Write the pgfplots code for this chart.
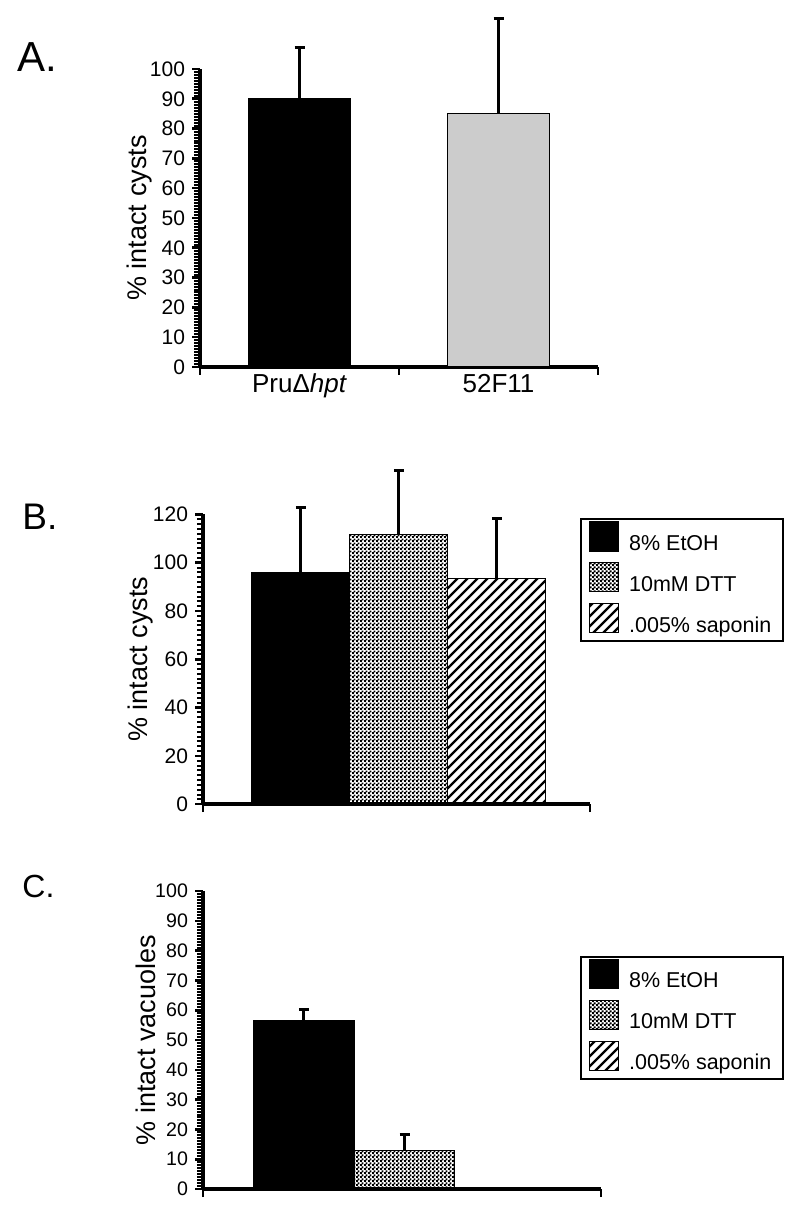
\documentclass[border=0pt]{standalone}
\usepackage{pgfplots}
\pgfplotsset{compat=1.18}
\usepackage{fontspec}
\setmainfont{Liberation Sans}
\usetikzlibrary{patterns}

\pgfdeclarepatternformonly{fcheck}{\pgfqpoint{0pt}{0pt}}{\pgfqpoint{2pt}{2pt}}{\pgfqpoint{2pt}{2pt}}{%
 \pgfpathrectangle{\pgfqpoint{0pt}{0pt}}{\pgfqpoint{1.15pt}{1.15pt}}%
 \pgfpathrectangle{\pgfqpoint{1pt}{1pt}}{\pgfqpoint{1.15pt}{1.15pt}}%
 \pgfusepath{fill}}
\pgfdeclarepatternformonly{fstripe}{\pgfqpoint{-1pt}{-1pt}}{\pgfqpoint{6pt}{6pt}}{\pgfqpoint{5pt}{5pt}}{%
 \pgfsetlinewidth{1.1pt}\pgfpathmoveto{\pgfqpoint{0pt}{0pt}}\pgfpathlineto{\pgfqpoint{5.1pt}{5.1pt}}\pgfusepath{stroke}}

\definecolor{lgray}{RGB}{204,204,204}

\pgfplotsset{
 panel/.style={
  scale only axis, anchor=south west,
  axis lines=left, axis line style={-, line width=1.8pt},
  tick align=outside, major tick length=4pt, minor tick length=3pt,
  major tick style={black, line width=1.3pt},
  minor tick style={black, line width=1pt},
  /pgf/number format/assume math mode=true,
  clip=false, ymin=0,
  ticklabel style={font=\fontsize{10.5}{12}\selectfont},
 },
 ebar/.style={/pgfplots/error bars/.cd, y dir=plus, y explicit,
   error bar style={line width=1.5pt},
   error mark options={rotate=90, mark size=2.5pt, line width=1.5pt}},
 sq/.style={/pgfplots/legend image code/.code={\draw[##1, line width=0.6pt] (0pt,-3.4pt) rectangle (14.5pt,11.1pt);}},
 legbox/.style={legend style={draw=black, line width=1pt, inner xsep=4pt, inner ysep=1pt,
   row sep=2.5pt, column sep=3pt, nodes={inner sep=2pt},
   font=\fontsize{10.75}{12}\selectfont}, legend cell align=left},
}

\begin{document}
\begin{tikzpicture}
\useasboundingbox (0,0) rectangle (400pt,603pt);

\node[anchor=base west, inner sep=0pt, font=\fontsize{21}{25}\selectfont] at (8.5pt,567pt) {A.};
\node[anchor=base west, inner sep=0pt, font=\fontsize{18.5}{22}\selectfont] at (11pt,338pt) {B.};
\node[anchor=base west, inner sep=0pt, font=\fontsize{16}{19}\selectfont] at (11pt,154pt) {C.};

% Panel A
\begin{axis}[panel, at={(100pt,419.5pt)}, width=199pt, height=149pt,
  xmin=-0.5, xmax=1.5, ymax=100,
  ytick={0,10,...,100}, minor y tick num=9,
  xtick={-0.5,0.5,1.5}, xticklabels={},
  extra x ticks={0,1}, extra x tick labels={Pru\symbol{"0394}\textit{hpt}, 52F11},
  extra x tick style={major tick length=0pt, ticklabel style={font=\fontsize{13}{15}\selectfont}},
  ylabel={\% intact cysts}, ylabel style={font=\fontsize{13.5}{16}\selectfont}, ylabel shift=-8pt,
]
\addplot[ybar, bar shift=0pt, bar width=0.51, fill=black, draw=black, line width=0.5pt, ebar]
  coordinates {(0,90.2) +- (0,17)};
\addplot[ybar, bar shift=0pt, bar width=0.51, fill=lgray, draw=black, line width=0.5pt, ebar]
  coordinates {(1,84.9) +- (0,32.2)};
\end{axis}

% Panel B
\begin{axis}[panel, legbox, at={(101.5pt,200.9pt)}, width=193.5pt, height=144.9pt,
  xmin=0, xmax=3.95, ymax=120,
  ytick={0,20,...,120}, minor y tick num=9,
  xtick={0,3.95}, xticklabels={},
  ylabel={\% intact cysts}, ylabel style={font=\fontsize{13.5}{16}\selectfont}, ylabel shift=-7pt,
  legend style={at={(0.974,0.986)}, anchor=north west},
]
\addplot[ybar, bar shift=0pt, bar width=1, fill=black, draw=black, line width=0.5pt, sq, ebar]
  coordinates {(1,95.9) +- (0,26.9)};
\addlegendentry{8\% EtOH}
\addplot[ybar, bar shift=0pt, bar width=1, pattern=fcheck, draw=black, line width=0.5pt, sq, ebar]
  coordinates {(2,111.8) +- (0,26.2)};
\addlegendentry{10mM DTT}
\addplot[ybar, bar shift=0pt, bar width=1, pattern=fstripe, draw=black, line width=0.5pt, sq, ebar]
  coordinates {(3,93.4) +- (0,25.0)};
\addlegendentry{.005\% saponin}
\end{axis}

% Panel C
\begin{axis}[panel, legbox, at={(101.5pt,8.5pt)}, width=199pt, height=149pt,
  xmin=0, xmax=3.95, ymax=100,
  ytick={0,10,...,100}, minor y tick num=9,
  ticklabel style={font=\fontsize{9.8}{11}\selectfont},
  xtick={0,3.95}, xticklabels={},
  ylabel={\% intact vacuoles}, ylabel style={font=\fontsize{13.5}{16}\selectfont}, ylabel shift=-7pt,
  legend style={at={(0.947,0.782)}, anchor=north west},
]
\addplot[ybar, bar shift=0pt, bar width=1, fill=black, draw=black, line width=0.5pt, sq, ebar]
  coordinates {(1,56.7) +- (0,3.7)};
\addlegendentry{8\% EtOH}
\addplot[ybar, bar shift=0pt, bar width=1, pattern=fcheck, draw=black, line width=0.5pt, sq, ebar]
  coordinates {(2,12.9) +- (0,5.5)};
\addlegendentry{10mM DTT}
\addplot[ybar, bar shift=0pt, bar width=1, pattern=fstripe, draw=black, line width=0.5pt, sq]
  coordinates {(3,0.3)};
\addlegendentry{.005\% saponin}
\end{axis}
\end{tikzpicture}
\end{document}
